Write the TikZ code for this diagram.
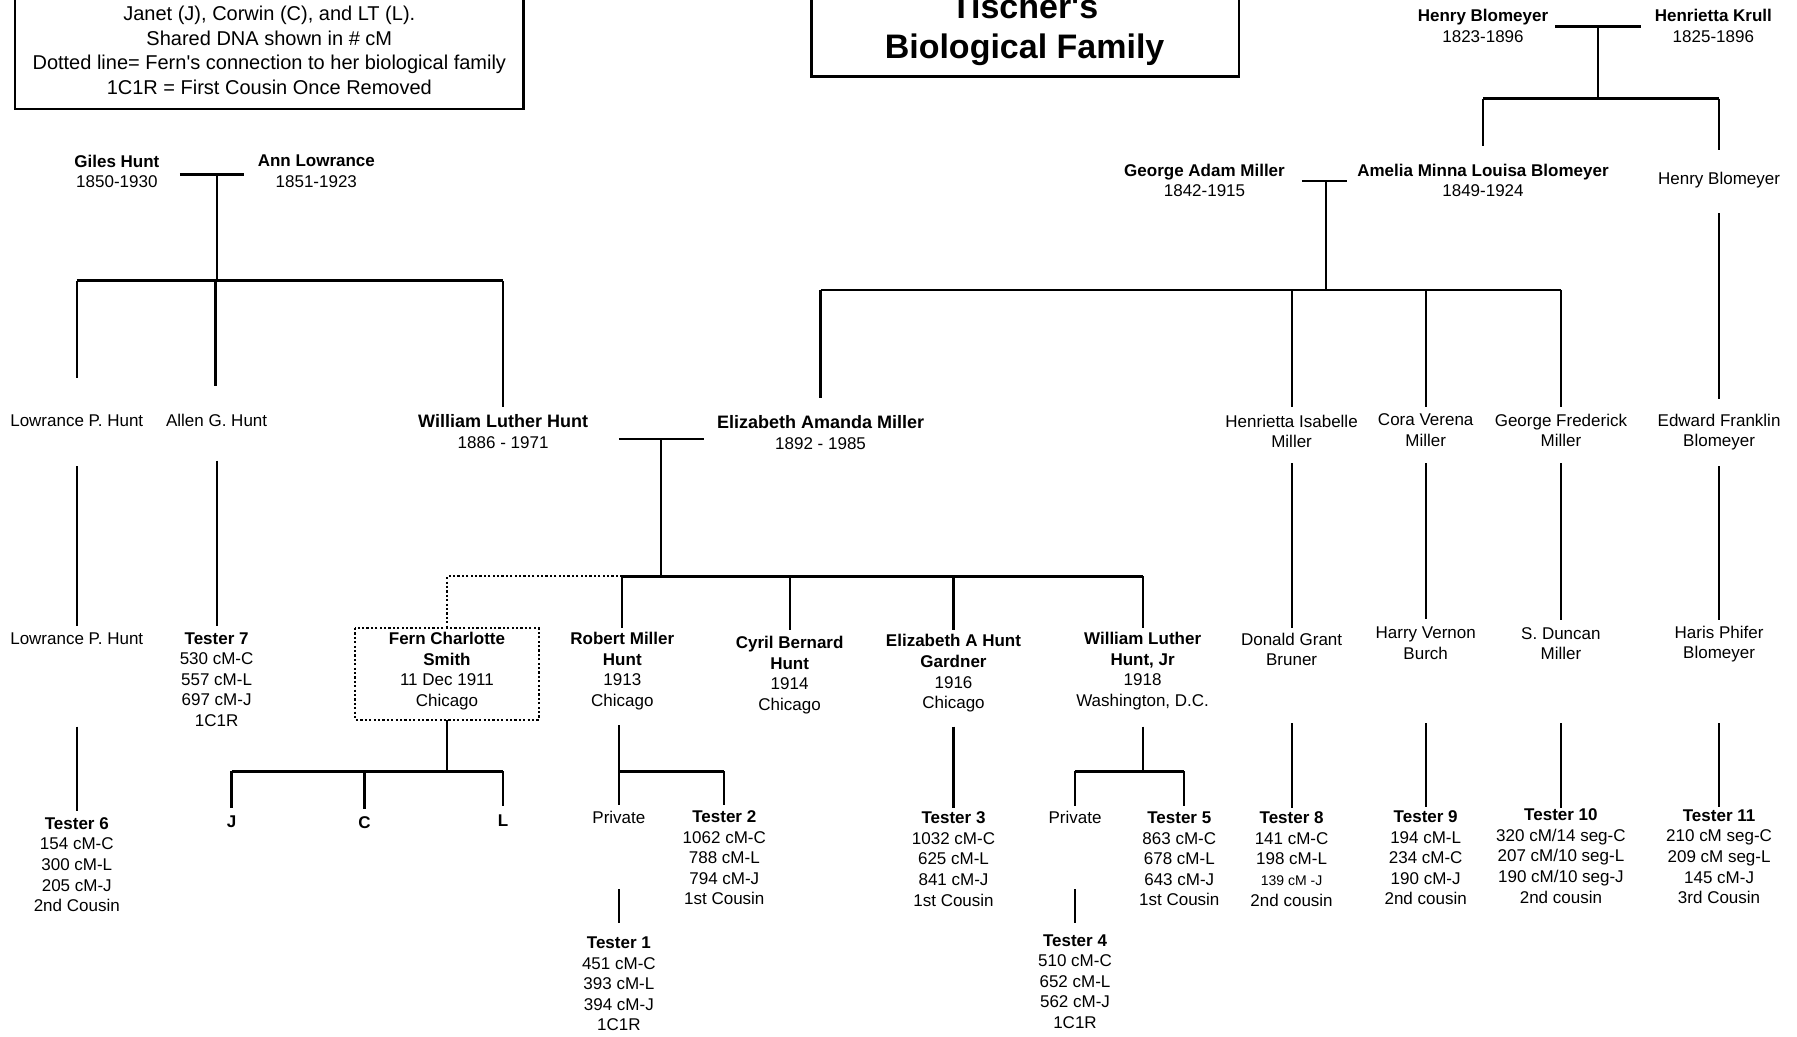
\documentclass[tikz,border=0pt]{standalone}
\usepackage{fontspec}
\setmainfont{Liberation Sans}
\begin{document}
\begin{tikzpicture}[x=1.14605pt,y=-1.14605pt,
  person/.style={font=\fontsize{17}{20.6}\selectfont, align=center, inner sep=0pt},
  legendtxt/.style={font=\fontsize{20}{24.4}\selectfont, align=center, inner sep=0pt},
  titletxt/.style={font=\fontsize{34}{38}\selectfont\bfseries, inner sep=0pt, anchor=base},
  tag/.style={font=\fontsize{17}{20.6}\selectfont\bfseries, inner sep=0pt},
  link/.style={line width=2.2pt},
  bar/.style={line width=2.7pt},
  boxline/.style={line width=2.6pt},
  dotline/.style={line width=2pt, dash pattern=on 2.2pt off 2.2pt}]
\useasboundingbox (0,0) rectangle (1568,904);
\fill[white] (0,0) rectangle (1568,904);

% ---------- legend and title ----------
\draw[boxline] (13,-10) rectangle (457,95);
\node[legendtxt] (legend) at (235,44) {Janet (J), Corwin (C), and LT (L).\\Shared DNA shown in \# cM\\Dotted line= Fern\textquotesingle s connection to her biological family\\1C1R = First Cousin Once Removed};
\draw[boxline] (708,-10) rectangle (1081,67);
\node[titletxt] (title1) at (894,16) {Tischer\textquotesingle s};
\node[titletxt] (title2) at (894,51) {Biological Family};

% ---------- Hunt side ----------
\node[person] (gh) at (102,149.5) {\textbf{Giles Hunt}\\1850-1930};
\node[person] (al) at (276,149.5) {\textbf{Ann Lowrance}\\1851-1923};
\node[person] (lph1) at (67,367) {Lowrance P. Hunt};
\node[person] (agh) at (189,367) {Allen G. Hunt};
\node[person] (wlh) at (439,376.5) {{\fontsize{18}{21.8}\selectfont\textbf{William Luther Hunt}}\\1886 - 1971};
\node[person] (eam) at (716,377.5) {{\fontsize{18}{21.8}\selectfont\textbf{Elizabeth Amanda Miller}}\\1892 - 1985};
\node[person] (lph2) at (67,557) {Lowrance P. Hunt};
\node[person] (t7) at (189,593) {\textbf{Tester 7}\\530 cM-C\\557 cM-L\\697 cM-J\\1C1R};
\node[person] (t6) at (67,754.5) {\textbf{Tester 6}\\154 cM-C\\300 cM-L\\205 cM-J\\2nd Cousin};

\coordinate (ghm1) at (157,152); \coordinate (ghm2) at (213,152);
\coordinate (ghm) at (189,152); \coordinate (ghs) at (189,245);
\coordinate (ghsL) at (67,245); \coordinate (ghsR) at (439,245); \coordinate (ghsA) at (188,245);
\coordinate (lph1t) at (67,330); \coordinate (aght) at (188,337); \coordinate (wlht) at (439,355);
\coordinate (lph1b) at (67,407); \coordinate (lph2t) at (67,546);
\coordinate (aghb) at (189,402); \coordinate (t7t) at (189,546);
\coordinate (lph2b) at (67,634); \coordinate (t6t) at (67,708);
\draw[bar] (ghm1) -- (ghm2);
\draw[link] (ghm) -- (ghs);
\draw[bar] (ghsL) -- (ghsR);
\draw[link] (ghsL) -- (lph1t);
\draw[link] (ghsA) -- (aght);
\draw[link] (ghsR) -- (wlht);
\draw[link] (lph1b) -- (lph2t);
\draw[link] (aghb) -- (t7t);
\draw[link] (lph2b) -- (t6t);

% ---------- William Luther Hunt + Elizabeth Amanda Miller ----------
\node[person] (fern) at (390,585.5) {\textbf{Fern Charlotte}\\\textbf{Smith}\\11 Dec 1911\\Chicago};
\node[person] (rmh) at (543,585.5) {\textbf{Robert Miller}\\\textbf{Hunt}\\1913\\Chicago};
\node[person] (cbh) at (689,589) {\textbf{Cyril Bernard}\\\textbf{Hunt}\\1914\\Chicago};
\node[person] (eahg) at (832,587.5) {\textbf{Elizabeth A Hunt}\\\textbf{Gardner}\\1916\\Chicago};
\node[person] (wlhjr) at (997,585.5) {\textbf{William Luther}\\\textbf{Hunt, Jr}\\1918\\Washington, D.C.};

\coordinate (wm1) at (540,383); \coordinate (wm2) at (614,383);
\coordinate (wm) at (577,383); \coordinate (ws) at (577,503);
\coordinate (wsF) at (390,503); \coordinate (wsR) at (543,503);
\coordinate (wsC) at (689,503); \coordinate (wsE) at (832,503); \coordinate (wsW) at (997,503);
\coordinate (fernt) at (390,548);
\coordinate (rmht) at (543,548); \coordinate (cbht) at (689,550);
\coordinate (eahgt) at (832,550); \coordinate (wlhjrt) at (997,548);
\draw[bar] (wm1) -- (wm2);
\draw[link] (wm) -- (ws);
\draw[bar] (wsR) -- (wsW);
\draw[dotline] (wsR) -- (wsF) -- (fernt);
\draw[dotline] (310,548) rectangle (470,628);
\draw[link] (wsR) -- (rmht);
\draw[link] (wsC) -- (cbht);
\draw[link] (wsE) -- (eahgt);
\draw[link] (wsW) -- (wlhjrt);

% Fern's children
\node[tag] (J) at (202,717) {J};
\node[tag] (C) at (318,718) {C};
\node[tag] (L) at (439,716) {L};
\coordinate (fernb) at (390,628); \coordinate (fs) at (390,673);
\coordinate (fsJ) at (202,673); \coordinate (fsC) at (318,673); \coordinate (fsL) at (439,673);
\coordinate (Jt) at (202,705); \coordinate (Ct) at (318,706); \coordinate (Lt) at (439,703);
\draw[link] (fernb) -- (fs);
\draw[bar] (fsJ) -- (fsL);
\draw[link] (fsJ) -- (Jt);
\draw[link] (fsC) -- (Ct);
\draw[link] (fsL) -- (Lt);

% Robert's line
\node[person] (priv1) at (540,713.5) {Private};
\node[person] (t2) at (632,748.5) {\textbf{Tester 2}\\1062 cM-C\\788 cM-L\\794 cM-J\\1st Cousin};
\node[person] (t1) at (540,858.5) {\textbf{Tester 1}\\451 cM-C\\393 cM-L\\394 cM-J\\1C1R};
\coordinate (rmhb) at (540,633); \coordinate (rs) at (540,673); \coordinate (priv1t) at (540,702);
\coordinate (rs2) at (632,673); \coordinate (t2t) at (632,702);
\coordinate (priv1b) at (540,776); \coordinate (t1t) at (540,805);
\draw[link] (rmhb) -- (priv1t);
\draw[bar] (rs) -- (rs2);
\draw[link] (rs2) -- (t2t);
\draw[link] (priv1b) -- (t1t);

% Elizabeth A Hunt Gardner's line
\node[person] (t3) at (832,749.5) {\textbf{Tester 3}\\1032 cM-C\\625 cM-L\\841 cM-J\\1st Cousin};
\coordinate (eahgb) at (832,634); \coordinate (t3t) at (832,705);
\draw[link] (eahgb) -- (t3t);

% William Luther Hunt Jr's line
\node[person] (priv2) at (938,713.5) {Private};
\node[person] (t5) at (1029,749.5) {\textbf{Tester 5}\\863 cM-C\\678 cM-L\\643 cM-J\\1st Cousin};
\node[person] (t4) at (938,856.5) {\textbf{Tester 4}\\510 cM-C\\652 cM-L\\562 cM-J\\1C1R};
\coordinate (wjb) at (997,634); \coordinate (wjs) at (997,673);
\coordinate (wjsP) at (938,673); \coordinate (wjsT) at (1033,673);
\coordinate (priv2t) at (938,703); \coordinate (t5t) at (1033,703);
\coordinate (priv2b) at (938,776); \coordinate (t4t) at (938,805);
\draw[link] (wjb) -- (wjs);
\draw[bar] (wjsP) -- (wjsT);
\draw[link] (wjsP) -- (priv2t);
\draw[link] (wjsT) -- (t5t);
\draw[link] (priv2b) -- (t4t);

% ---------- Blomeyer side ----------
\node[person] (hb) at (1294,22.5) {\textbf{Henry Blomeyer}\\1823-1896};
\node[person] (hk) at (1495,22.5) {\textbf{Henrietta Krull}\\1825-1896};
\node[person] (gam) at (1051,157.5) {\textbf{George Adam Miller}\\1842-1915};
\node[person] (amlb) at (1294,157.5) {\textbf{Amelia Minna Louisa Blomeyer}\\1849-1924};
\node[person] (hb2) at (1500,157.5) {Henry Blomeyer};
\coordinate (bm1) at (1357,23); \coordinate (bm2) at (1432,23);
\coordinate (bm) at (1394,23); \coordinate (bs) at (1394,86);
\coordinate (bsA) at (1294,86); \coordinate (bsH) at (1500,86);
\coordinate (amlbt) at (1294,127); \coordinate (hb2t) at (1500,131);
\coordinate (hb2b) at (1500,186); \coordinate (efbt) at (1500,348);
\draw[bar] (bm1) -- (bm2);
\draw[link] (bm) -- (bs);
\draw[bar] (bsA) -- (bsH);
\draw[link] (bsA) -- (amlbt);
\draw[link] (bsH) -- (hb2t);
\draw[link] (hb2b) -- (efbt);

% ---------- Miller children ----------
\node[person] (him) at (1127,376.5) {Henrietta Isabelle\\Miller};
\node[person] (cvm) at (1244,375.5) {Cora Verena\\Miller};
\node[person] (gfm) at (1362,375.5) {George Frederick\\Miller};
\node[person] (efb) at (1500,377) {Edward Franklin\\Blomeyer};
\node[person] (dgb) at (1127,566.5) {Donald Grant\\Bruner};
\node[person] (hvb) at (1244,561.5) {Harry Vernon\\Burch};
\node[person] (sdm) at (1362,561.5) {S. Duncan\\Miller};
\node[person] (hpb) at (1500,562) {Haris Phifer\\Blomeyer};
\node[person] (t8) at (1127,749.5) {\textbf{Tester 8}\\141 cM-C\\198 cM-L\\{\fontsize{14}{17}\selectfont 139 cM -J}\\2nd cousin};
\node[person] (t9) at (1244,748.5) {\textbf{Tester 9}\\194 cM-L\\234 cM-C\\190 cM-J\\2nd cousin};
\node[person] (t10) at (1362,747) {\textbf{Tester 10}\\320 cM/14 seg-C\\207 cM/10 seg-L\\190 cM/10 seg-J\\2nd cousin};
\node[person] (t11) at (1500,747.5) {\textbf{Tester 11}\\210 cM seg-C\\209 cM seg-L\\145 cM-J\\3rd Cousin};

\coordinate (gm1) at (1136,158); \coordinate (gm2) at (1175,158);
\coordinate (gm) at (1157,158); \coordinate (gs) at (1157,253);
\coordinate (gsE) at (716,253); \coordinate (gsH) at (1127,253);
\coordinate (gsC) at (1244,253); \coordinate (gsG) at (1362,253);
\coordinate (eamt) at (716,347); \coordinate (himt) at (1127,355);
\coordinate (cvmt) at (1244,355); \coordinate (gfmt) at (1362,355);
\draw[bar] (gm1) -- (gm2);
\draw[link] (gm) -- (gs);
\draw[bar] (gsE) -- (gsG);
\draw[link] (gsE) -- (eamt);
\draw[link] (gsH) -- (himt);
\draw[link] (gsC) -- (cvmt);
\draw[link] (gsG) -- (gfmt);

\coordinate (himb) at (1127,404); \coordinate (dgbt) at (1127,548);
\coordinate (cvmb) at (1244,404); \coordinate (hvbt) at (1244,540);
\coordinate (gfmb) at (1362,404); \coordinate (sdmt) at (1362,541);
\coordinate (efbb) at (1500,407); \coordinate (hpbt) at (1500,541);
\draw[link] (himb) -- (dgbt);
\draw[link] (cvmb) -- (hvbt);
\draw[link] (gfmb) -- (sdmt);
\draw[link] (efbb) -- (hpbt);

\coordinate (dgbb) at (1127,631); \coordinate (t8t) at (1127,705);
\coordinate (hvbb) at (1244,631); \coordinate (t9t) at (1244,704);
\coordinate (sdmb) at (1362,631); \coordinate (t10t) at (1362,705);
\coordinate (hpbb) at (1500,631); \coordinate (t11t) at (1500,704);
\draw[link] (dgbb) -- (t8t);
\draw[link] (hvbb) -- (t9t);
\draw[bar] (sdmb) -- (t10t);
\draw[link] (hpbb) -- (t11t);
\end{tikzpicture}
\end{document}
